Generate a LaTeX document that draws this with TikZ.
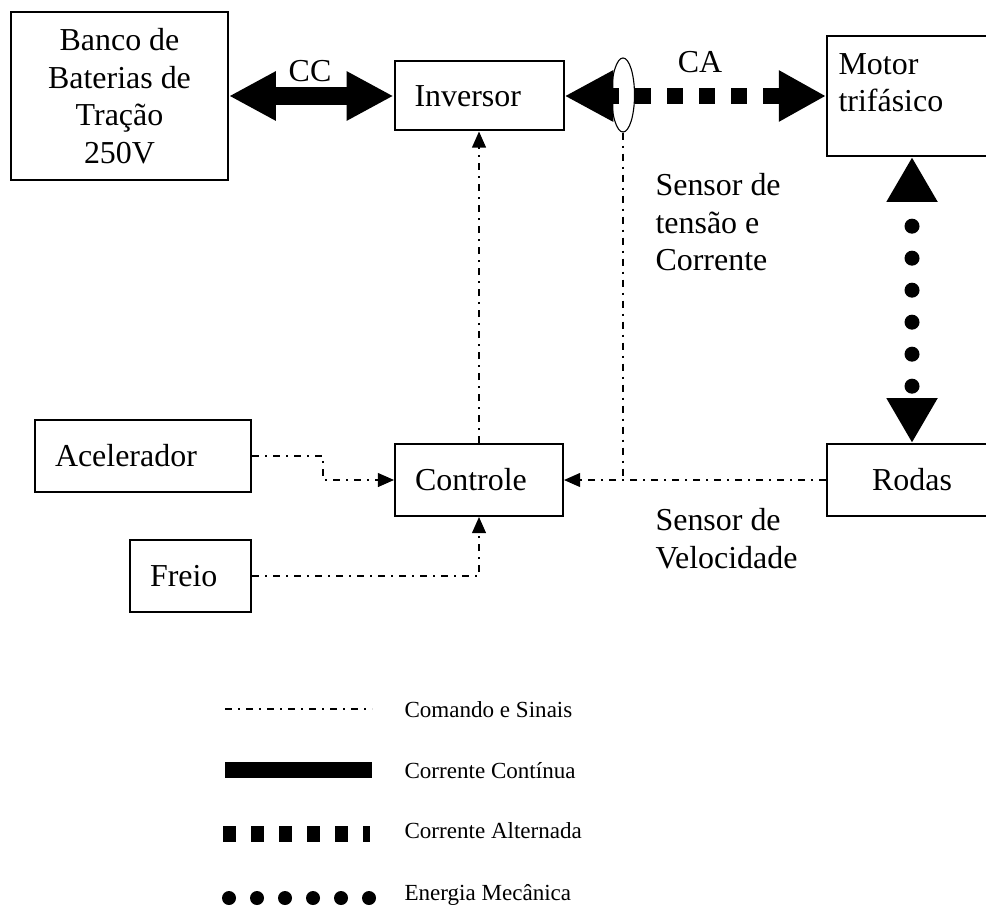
\documentclass[tikz,border=0pt]{standalone}
\usepackage{fontspec}
\setmainfont{Liberation Serif}
\usetikzlibrary{arrows.meta,shapes.geometric}

\begin{document}
\begin{tikzpicture}[x=0.36pt, y=-0.36pt,
	txt/.style={font=\fontsize{11.5}{13.5}\selectfont, inner sep=0pt},
	blk/.style={draw, line width=0.72pt, txt, inner xsep=7.2pt, minimum height=25.92pt},
	one/.style={align=left},
	sig/.style={line width=0.5pt, dash pattern=on 2.52pt off 2.16pt on 0.72pt off 2.16pt},
	sigarr/.style={sig, -{Triangle[length=5.8pt, width=5pt]}},
	ccarr/.style={line width=6.48pt, {Triangle[length=16.9pt, width=16.6pt]}-{Triangle[length=16.9pt, width=16.6pt]}},
	caarr/.style={line width=5.76pt, dash pattern=on 5.76pt off 5.76pt, dash phase=2.5pt, {Triangle[length=17.6pt, width=17.3pt]}-{Triangle[length=17pt, width=17.3pt]}},
	mecarr/.style={line width=5.4pt, line cap=round, dash pattern=on 0pt off 11.52pt, dash phase=1.8pt, {Triangle[length=16.2pt, width=17.3pt]}-{Triangle[length=16.2pt, width=17.3pt]}},
	leg/.style={font=\fontsize{8.3}{10}\selectfont, inner sep=0pt, anchor=base west}]
	\useasboundingbox (0,0) rectangle (986,906);
	\node[blk, align=center, minimum width=78.12pt, minimum height=60.48pt] (bank) at (119.5,96) {Banco de\\Baterias de\\Tração\\250V};
	\node[blk, one, text width=46.44pt, minimum height=24.84pt] (inv) at (479,96) {Inversor};
	\node[blk, minimum width=61.2pt, minimum height=43.2pt] (motor) at (912,96) {};
	\node[txt, anchor=north west, align=left] (motortxt) at (838,53) {Motor\\trifásico};
	\node[blk, one, text width=46.08pt] (ctrl) at (479,480) {Controle};
	\node[blk, one, align=center, text width=46.8pt] (rodas) at (912,480) {Rodas};
	\node[blk, one, text width=63.36pt] (acel) at (143,456) {Acelerador};
	\node[blk, one, text width=29.16pt] (freio) at (190.5,576) {Freio};
	\draw[ccarr] (bank) -- (inv);
	\draw[caarr] (inv) -- (motor);
	\node[draw, ellipse, line width=0.4pt, inner sep=0pt, minimum width=8.28pt, minimum height=26.64pt] (sens) at (623,95) {};
	\draw[mecarr] (motor) -- (rodas);
	\coordinate (acelbend) at (323,456);
	\coordinate (sensjoin) at (sens |- ctrl);
	\draw[sigarr] (acel) -- (acelbend) |- (ctrl);
	\draw[sigarr] (freio) -| (ctrl);
	\draw[sigarr] (rodas) -- (ctrl);
	\draw[sigarr] (ctrl) -- (inv);
	\draw[sig] (sens) -- (sensjoin);
	\node[txt, anchor=base] (cclbl) at (310,82) {CC};
	\node[txt, anchor=base] (calbl) at (700,73) {CA};
	\node[txt, anchor=north west, align=left] (senslbl) at (655,173) {Sensor de\\tensão e\\Corrente};
	\node[txt, anchor=north west, align=left] (vellbl) at (655,508) {Sensor de\\Velocidade};
	% legenda
	\draw[sig] (225,709) -- (372,709);
	\draw[line width=5.76pt] (225,770) -- (372,770);
	\draw[line width=5.76pt, dash pattern=on 4.68pt off 5.4pt] (223,834) -- (370,834);
	\draw[line width=5.04pt, line cap=round, dash pattern=on 0pt off 10.08pt] (229,898) -- (369,898);
	\node[leg] (legsig) at (404,717) {Comando e Sinais};
	\node[leg] (legcc) at (404,778) {Corrente Contínua};
	\node[leg] (legca) at (404,838) {Corrente Alternada};
	\node[leg] (legmec) at (404,900) {Energia Mecânica};
\end{tikzpicture}
\end{document}
